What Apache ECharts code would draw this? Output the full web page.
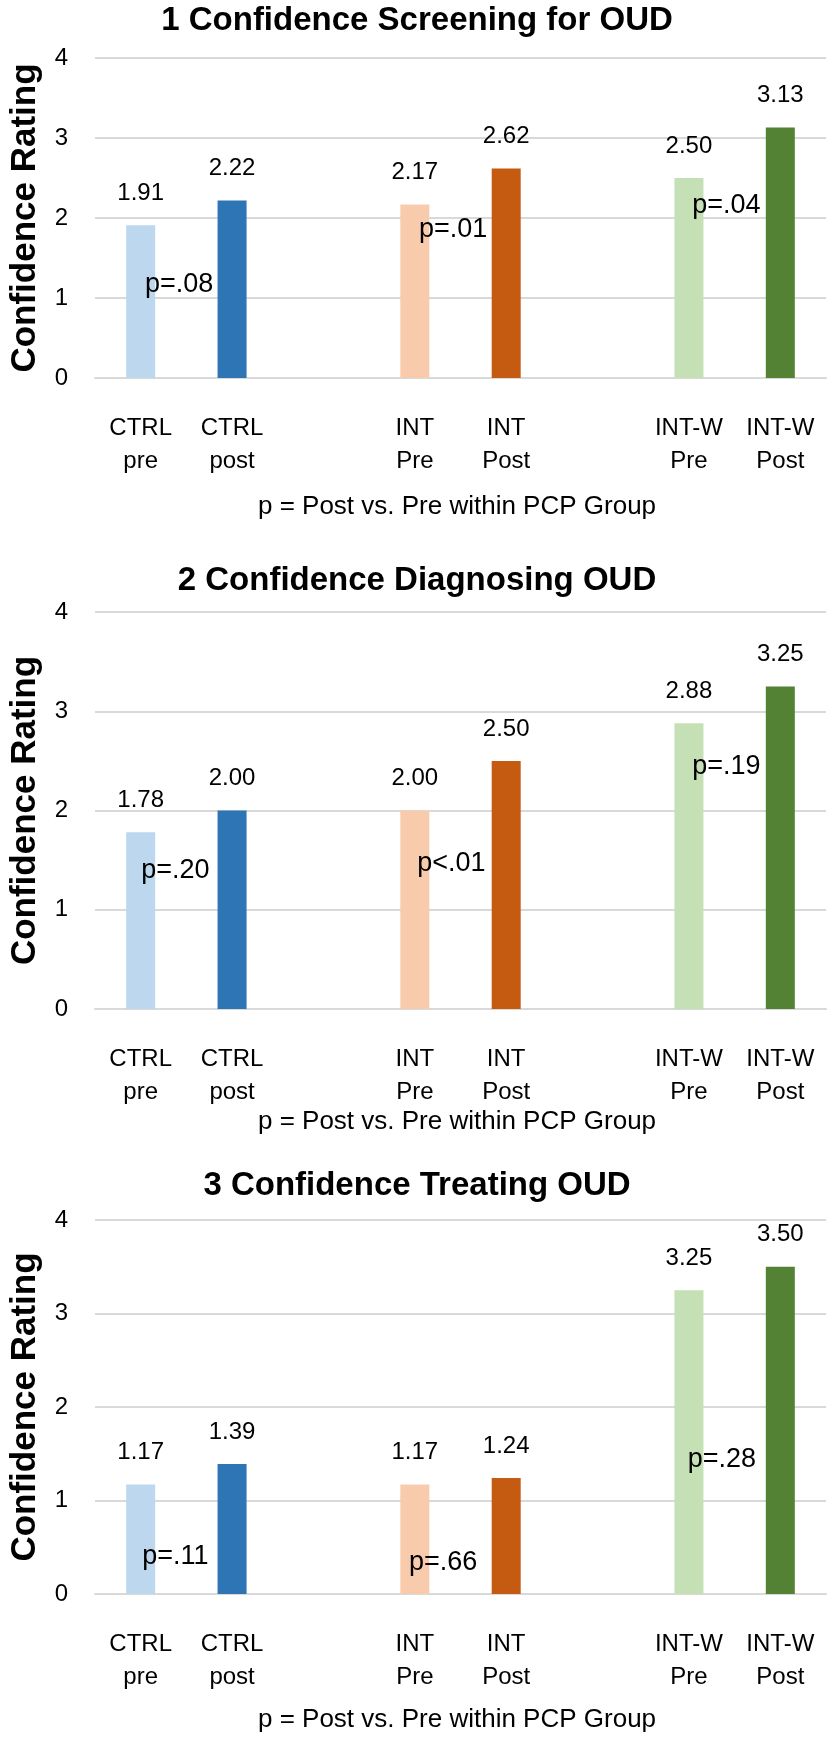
<!DOCTYPE html>
<html>
<head>
<meta charset="utf-8">
<script src="https://cdn.jsdelivr.net/npm/echarts@6/dist/echarts.min.js"></script>
<style>
  html, body { margin: 0; padding: 0; background: #fff; }
  #main { width: 827px; height: 1737px; }
</style>
</head>
<body>
<div id="main"></div>
<script>
// categories: empty slots keep the gaps between the three PCP groups
const categories = ['CTRL\npre', 'CTRL\npost', '', 'INT\nPre', 'INT\nPost', '', 'INT-W\nPre', 'INT-W\nPost'];
const barColors = ['#BDD7EE', '#2E75B6', '#fff', '#F8CBAD', '#C55A11', '#fff', '#C5E0B4', '#548235'];

const titles = ['1 Confidence Screening for OUD', '2 Confidence Diagnosing OUD', '3 Confidence Treating OUD'];

const screening = [1.91, 2.22, '-', 2.17, 2.62, '-', 2.50, 3.13];
const diagnosing = [1.78, 2.00, '-', 2.00, 2.50, '-', 2.88, 3.25];
const treating = [1.17, 1.39, '-', 1.17, 1.24, '-', 3.25, 3.50];

// p-values between pre and post bars, anchored in data space [x (category index), y (rating)]
const pText = [
  ['p=.08', 'p=.01', 'p=.04'],
  ['p=.20', 'p<.01', 'p=.19'],
  ['p=.11', 'p=.66', 'p=.28']
];
const pX = [
  [0.42, 3.42, 6.41],
  [0.38, 3.40, 6.41],
  [0.38, 3.31, 6.36]
];
const pY = [
  [1.17, 1.85, 2.16],
  [1.39, 1.47, 2.44],
  [0.40, 0.34, 1.44]
];

const yTicks = [0, 1, 2, 3, 4];
const footnote = 'p = Post vs. Pre within PCP Group';

const values = [screening, diagnosing, treating];

const font = 'Liberation Sans, Arial, sans-serif';

// panel layout (pixels)
const gridTops = [58, 612, 1220];
const gridHeights = [320, 397, 374];
const titleTops = [4, 564, 1169];
const noteY = [507, 1122, 1720];

let myChart = echarts.init(document.getElementById('main'));

let option = {
  backgroundColor: '#fff',
  animation: false,
  title: titles.map((t, i) => ({
    text: t,
    left: 417,
    top: titleTops[i],
    textAlign: 'center',
    padding: 0,
    textStyle: { fontFamily: font, fontSize: 33, fontWeight: 'bold', color: '#000' }
  })),
  grid: gridTops.map((t, i) => ({
    left: 88, right: 1, top: t, height: gridHeights[i]
  })),
  xAxis: [
    ...values.map((v, i) => ({
      type: 'category',
      gridIndex: i,
      data: categories,
      axisTick: { show: false },
      axisLine: { lineStyle: { color: '#d9d9d9', width: 2 } },
      axisLabel: {
        interval: 0,
        margin: 34,
        fontFamily: font,
        fontSize: 24,
        lineHeight: 33,
        color: '#000'
      }
    })),
    ...values.map((v, i) => ({
      type: 'value',
      gridIndex: i,
      min: -0.5,
      max: 7.5,
      show: false
    }))
  ],
  yAxis: values.map((v, i) => ({
    type: 'value',
    gridIndex: i,
    min: yTicks[0],
    max: yTicks[yTicks.length - 1],
    interval: 1,
    name: 'Confidence Rating',
    nameLocation: 'middle',
    nameGap: 52,
    nameTextStyle: { fontFamily: font, fontSize: 35, fontWeight: 'bold', color: '#000' },
    axisLine: { show: false },
    axisTick: { show: false },
    axisLabel: { margin: 27, fontFamily: font, fontSize: 24, color: '#000' },
    splitLine: { lineStyle: { color: '#d9d9d9', width: 2 } }
  })),
  graphic: noteY.map(y => ({
    type: 'text',
    x: 457,
    y: y,
    style: {
      text: footnote,
      fontFamily: font,
      fontSize: 26,
      fill: '#000',
      align: 'center',
      verticalAlign: 'middle'
    }
  })),
  series: [
    ...values.map((v, i) => ({
      type: 'bar',
      xAxisIndex: i,
      yAxisIndex: i,
      barWidth: 29,
      data: v.map((d, k) => ({ value: d, itemStyle: { color: barColors[k] } })),
      label: {
        show: true,
        position: 'top',
        distance: 20,
        fontFamily: font,
        fontSize: 24,
        color: '#000',
        formatter: p => Number(p.value).toFixed(2)
      }
    })),
    ...values.map((v, i) => ({
      type: 'scatter',
      xAxisIndex: 3 + i,
      yAxisIndex: i,
      symbolSize: 0,
      itemStyle: { opacity: 1 },
      data: pText[i].map((t, k) => ({ name: t, value: [pX[i][k], pY[i][k]] })),
      label: {
        show: true,
        position: 'inside',
        fontFamily: font,
        fontSize: 27,
        color: '#000',
        opacity: 1,
        formatter: '{b}'
      },
      z: 5
    }))
  ]
};

myChart.setOption(option);
</script>
</body>
</html>
